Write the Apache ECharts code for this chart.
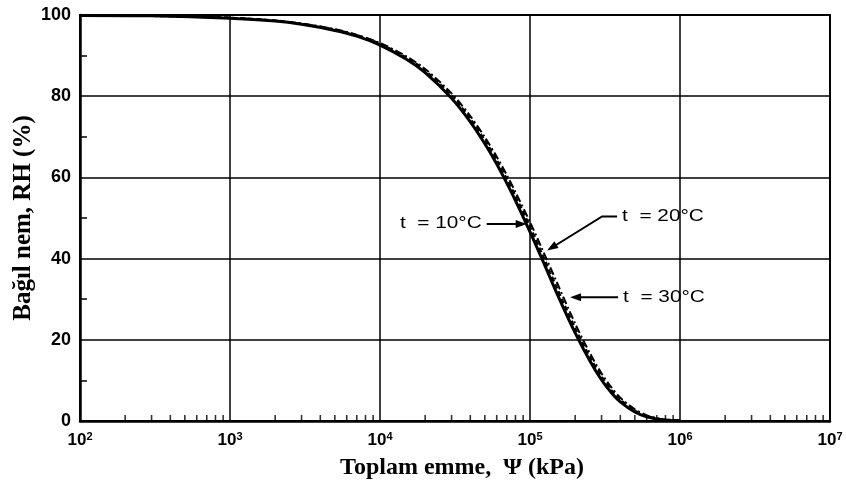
<!DOCTYPE html>
<html><head><meta charset="utf-8">
<script src="https://cdn.jsdelivr.net/npm/echarts@6/dist/echarts.min.js"></script>
<style>html,body{margin:0;padding:0;background:#fff}#c{width:846px;height:486px}</style>
</head><body><div id="c"></div>
<script>
// Total suction (kPa)
const psi = [100, 300, 1000, 2000, 3000, 5000, 7000, 1e4, 1.5e4, 2e4, 3e4, 4e4, 5e4, 6e4, 7e4, 8e4, 1e5, 1.2e5, 1.5e5, 2e5, 2.5e5, 3e5, 3.5e5, 4e5, 5e5, 6e5, 7e5, 8e5, 1e6];
// Relative humidity (%)
const rh10 = [99.9, 99.8, 99.2, 98.5, 97.7, 96.2, 94.8, 92.6, 89.1, 85.8, 79.5, 73.7, 68.3, 63.3, 58.6, 54.3, 46.6, 40.0, 31.7, 21.7, 14.9, 10.1, 6.9, 4.7, 2.2, 1.0, 0.5, 0.2, 0.05];
const rh20 = [99.9, 99.8, 99.3, 98.6, 97.8, 96.4, 95.0, 92.9, 89.5, 86.3, 80.1, 74.4, 69.1, 64.2, 59.6, 55.4, 47.8, 41.2, 33.0, 22.8, 15.8, 10.9, 7.5, 5.2, 2.5, 1.2, 0.6, 0.3, 0.1];
const rh30 = [99.9, 99.8, 99.3, 98.6, 97.9, 96.5, 95.1, 93.1, 89.8, 86.7, 80.7, 75.1, 69.9, 65.1, 60.6, 56.4, 49.0, 42.5, 34.4, 24.0, 16.8, 11.7, 8.2, 5.7, 2.9, 1.4, 0.7, 0.35, 0.1];
const seriesNames = ['t  = 10°C', 't  = 20°C', 't  = 30°C'];
// Axis tick labels
const xExponents = [2, 3, 4, 5, 6, 7];
const yTicks = [0, 20, 40, 60, 80, 100];
const xTitle = 'Toplam emme,  \u03A8 (kPa)';
const yTitle = 'Bağıl nem, RH (%)';

// minor tick positions on the log axis (2..9 x 10^n)
const minorX = [];
for (let n = 2; n < 7; n++) for (let k = 2; k <= 9; k++) minorX.push([k * Math.pow(10, n), 0]);

const chart = echarts.init(document.getElementById('c'));
const pair = (ys) => psi.map((x, i) => [x, ys[i]]);
chart.setOption({
  animation: false,
  grid: { left: 80, right: 16, top: 15, bottom: 65, outerBoundsMode: 'none', show: true, borderColor: '#000', borderWidth: 2, backgroundColor: 'transparent' },
  xAxis: {
    type: 'log', logBase: 10, min: 100, max: 1e7,
    name: xTitle, nameLocation: 'middle', nameGap: 35,
    nameTextStyle: { fontFamily: 'Liberation Serif', fontWeight: 'bold', fontSize: 24, color: '#000', padding: [0, 0, 0, 14] },
    axisLine: { lineStyle: { color: '#000', width: 2.5 } },
    axisTick: { show: false },
    splitLine: { show: true, lineStyle: { color: '#000', width: 1.5 } },
    axisLabel: {
      margin: 10,
      formatter: (v) => {
        const e = Math.round(Math.log10(v));
        return xExponents.includes(e) ? '{a|10}{b|' + e + '}' : '';
      },
      rich: {
        a: { fontFamily: 'Liberation Sans', fontSize: 17, color: '#000', fontWeight: 'bold' },
        b: { fontFamily: 'Liberation Sans', fontSize: 11, color: '#000', fontWeight: 'bold', verticalAlign: 'top', padding: [0, 0, 8, 0] }
      }
    }
  },
  yAxis: {
    type: 'value', min: 0, max: 100, interval: 20,
    name: yTitle, nameLocation: 'middle', nameGap: 44, nameMoveOverlap: false,
    nameTextStyle: { fontFamily: 'Liberation Serif', fontWeight: 'bold', fontSize: 25, color: '#000' },
    axisLine: { show: true, lineStyle: { color: '#000', width: 2.5 } },
    axisTick: { show: false, inside: true },
    minorTick: { show: true, splitNumber: 2, length: 7, lineStyle: { color: '#000', width: 1.5 } },
    splitLine: { show: true, lineStyle: { color: '#000', width: 1.5 } },
    axisLabel: {
      margin: 9, fontFamily: 'Liberation Sans', fontSize: 18, fontWeight: 'bold', color: '#000',
      formatter: (v) => yTicks.includes(v) ? String(v) : ''
    }
  },
  series: [
    { type: 'scatter', silent: true, data: minorX, symbol: 'rect', symbolSize: [1.6, 6], symbolOffset: [0, -3], itemStyle: { color: '#000' }, z: 1 },
    { name: seriesNames[0], type: 'line', data: pair(rh10), smooth: 0.3, showSymbol: false, lineStyle: { color: '#000', width: 3 }, z: 3 },
    { name: seriesNames[1], type: 'line', data: pair(rh20), smooth: 0.3, showSymbol: false, lineStyle: { color: '#000', width: 2.5, type: [5, 3] }, z: 3 },
    { name: seriesNames[2], type: 'line', data: pair(rh30), smooth: 0.3, showSymbol: false, lineStyle: { color: '#000', width: 2, type: [8, 3, 2, 3] }, z: 3 }
  ]
});

// Annotations with arrows, anchored in data space
const px = (x, y) => chart.convertToPixel({ gridIndex: 0 }, [x, y]);
const tip10 = px(9.5e4, 48.5), tip20 = px(1.3e5, 42), tip30 = px(1.85e5, 30.5);
const txtStyle = { fontFamily: 'Liberation Sans', fontSize: 16, fill: '#000' };
function head(t, from) {
  const dx = t[0] - from[0], dy = t[1] - from[1], L = Math.hypot(dx, dy);
  const ux = dx / L, uy = dy / L, nx = -uy, ny = ux;
  return { type: 'polygon', shape: { points: [[t[0], t[1]], [t[0] - ux * 11 + nx * 4, t[1] - uy * 11 + ny * 4], [t[0] - ux * 11 - nx * 4, t[1] - uy * 11 - ny * 4]] }, style: { fill: '#000' }, z: 10 };
}
const g = [];
const SX = 1.3;
// 10°C
const a10 = [tip10[0] - 40, tip10[1]];
g.push({ type: 'line', shape: { x1: a10[0], y1: a10[1], x2: tip10[0] - 6, y2: tip10[1] }, style: { stroke: '#000', lineWidth: 2 }, z: 10 });
g.push(head(tip10, a10));
g.push({ type: 'text', x: a10[0] - 5, y: a10[1], scaleX: SX, style: Object.assign({ text: seriesNames[0], align: 'right', verticalAlign: 'middle' }, txtStyle), z: 10 });
// 20°C
const b1 = [tip20[0] + 70, tip20[1] - 34], b2 = [tip20[0] + 55, tip20[1] - 34];
g.push({ type: 'polyline', shape: { points: [b1, b2, [tip20[0] + 5, tip20[1] - 3]] }, style: { stroke: '#000', lineWidth: 2, fill: null }, z: 10 });
g.push(head(tip20, b2));
g.push({ type: 'text', x: b1[0] + 5, y: b1[1], scaleX: SX, style: Object.assign({ text: seriesNames[1], align: 'left', verticalAlign: 'middle' }, txtStyle), z: 10 });
// 30°C
const c1 = [tip30[0] + 48, tip30[1]];
g.push({ type: 'line', shape: { x1: c1[0], y1: c1[1], x2: tip30[0] + 6, y2: tip30[1] }, style: { stroke: '#000', lineWidth: 2 }, z: 10 });
g.push(head(tip30, c1));
g.push({ type: 'text', x: c1[0] + 5, y: c1[1], scaleX: SX, style: Object.assign({ text: seriesNames[2], align: 'left', verticalAlign: 'middle' }, txtStyle), z: 10 });
chart.setOption({ graphic: g });
</script></body></html>
